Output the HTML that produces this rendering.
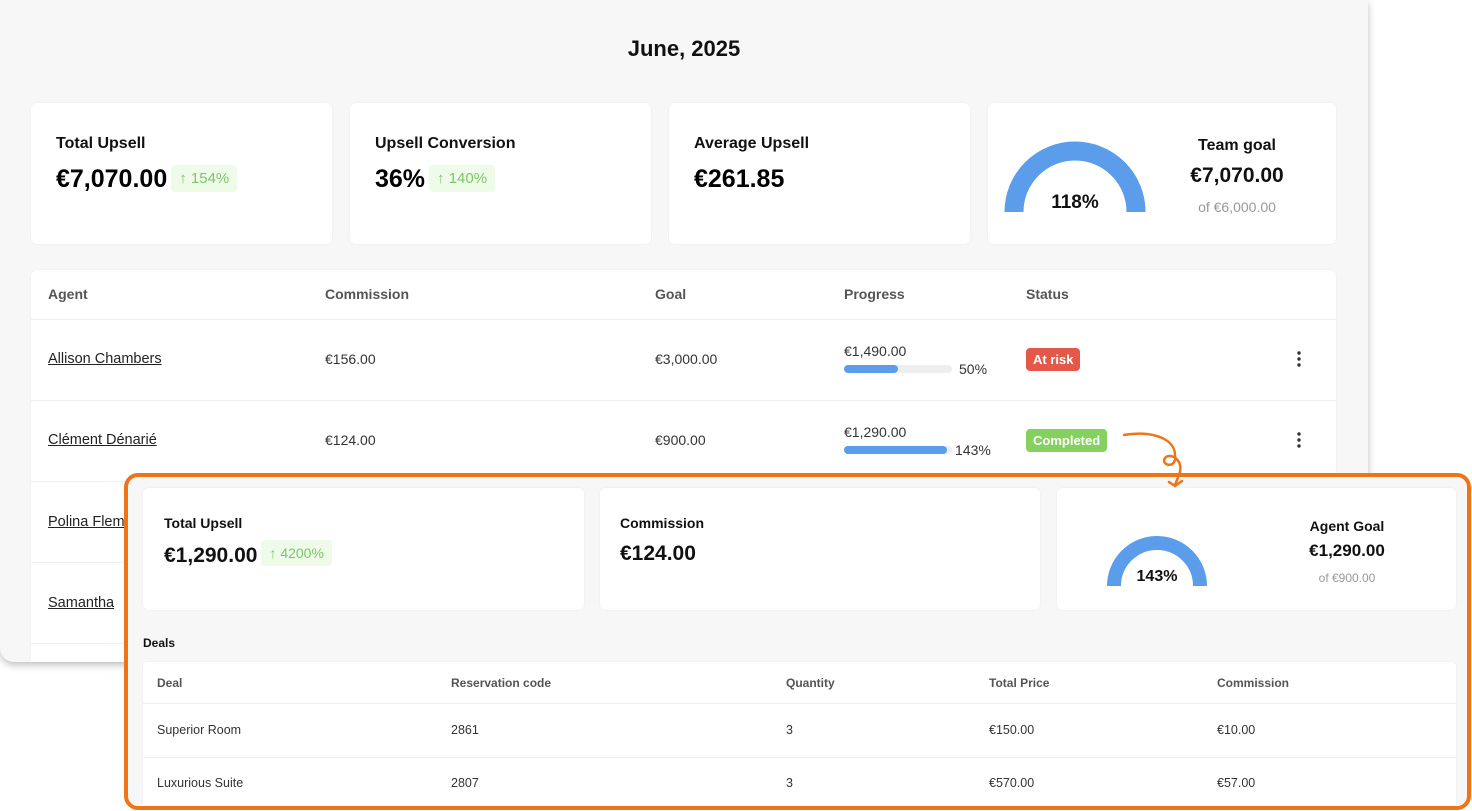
<!DOCTYPE html>
<html><head><meta charset="utf-8"><style>
*{box-sizing:border-box;margin:0;padding:0}
body{width:1472px;height:811px;background:#fff;font-family:"Liberation Sans",sans-serif;position:relative;overflow:hidden;color:#111}
.a{position:absolute}
.panel{left:0;top:0;width:1368px;height:662px;background:#f7f7f7;border-radius:0 0 14px 14px;box-shadow:0 3px 8px rgba(0,0,0,.25)}
.card{position:absolute;background:#fff;border-radius:6px;box-shadow:0 0 2px rgba(0,0,0,.06)}
.lbl{font-weight:bold;font-size:16px;color:#111}
.big{font-weight:bold;font-size:25px;color:#000}
.badge{display:inline-block;background:#eefbe9;color:#7cc66a;font-size:15px;padding:5px 8px;border-radius:4px;vertical-align:4px;margin-left:4px}
.th{font-weight:bold;font-size:14px;color:#555}
.td{font-size:14px;color:#333}
.u{text-decoration:underline;color:#222;font-size:14.5px}
.line{position:absolute;height:1px;background:#eeeeee}
.bar{position:absolute;height:8px;border-radius:4px;background:#eee;width:108px}
.bar i{display:block;height:8px;border-radius:4px;background:#5b9ceb}
</style></head><body>
<div class="a panel"></div>
<div class="a" style="left:0;top:36px;width:1368px;text-align:center;font-weight:bold;font-size:22px">June, 2025</div>

<div class="card" style="left:31px;top:103px;width:301px;height:141px">
<div class="a lbl" style="left:25px;top:32px">Total Upsell</div>
<div class="a" style="left:25px;top:62px"><span class="big">€7,070.00</span><span class="badge">↑ 154%</span></div></div>
<div class="card" style="left:350px;top:103px;width:301px;height:141px">
<div class="a lbl" style="left:25px;top:32px">Upsell Conversion</div>
<div class="a" style="left:25px;top:62px"><span class="big">36%</span><span class="badge">↑ 140%</span></div></div>
<div class="card" style="left:669px;top:103px;width:301px;height:141px">
<div class="a lbl" style="left:25px;top:32px">Average Upsell</div>
<div class="a" style="left:25px;top:62px"><span class="big">€261.85</span></div></div>
<div class="card" style="left:988px;top:103px;width:348px;height:141px">
<svg class="a" style="left:0;top:0" width="200" height="141"><path d="M26 109 A61 61 0 0 1 148 109" fill="none" stroke="#5b9ceb" stroke-width="19"/></svg>
<div class="a" style="left:47px;top:89px;width:80px;text-align:center;font-weight:bold;font-size:19px">118%</div>
<div class="a" style="left:180px;top:34px;width:138px;text-align:center;font-weight:bold;font-size:16px">Team goal</div>
<div class="a" style="left:180px;top:61px;width:138px;text-align:center;font-weight:bold;font-size:21px">€7,070.00</div>
<div class="a" style="left:180px;top:96px;width:138px;text-align:center;font-size:14px;color:#999">of €6,000.00</div></div>

<div class="card" style="left:31px;top:270px;width:1305px;height:392px;border-radius:6px 6px 0 0"></div>
<div class="a th" style="left:48px;top:286px">Agent</div>
<div class="a th" style="left:325px;top:286px">Commission</div>
<div class="a th" style="left:655px;top:286px">Goal</div>
<div class="a th" style="left:844px;top:286px">Progress</div>
<div class="a th" style="left:1026px;top:286px">Status</div>
<div class="line" style="left:31px;width:1305px;top:319px"></div>
<div class="line" style="left:31px;width:1305px;top:400px"></div>
<div class="line" style="left:31px;width:1305px;top:481px"></div>
<div class="line" style="left:31px;width:1305px;top:562px"></div>
<div class="line" style="left:31px;width:1305px;top:643px"></div>
<div class="a u" style="left:48px;top:351px">Allison Chambers</div>
<div class="a td" style="left:325px;top:351px">€156.00</div>
<div class="a td" style="left:655px;top:351px">€3,000.00</div>
<div class="a td" style="left:844px;top:343px">€1,490.00</div>
<div class="bar" style="left:844px;top:365px"><i style="width:54px"></i></div>
<div class="a td" style="left:959px;top:361px">50%</div>
<div class="a" style="left:1026px;top:348px;background:#e4584a;color:#fff;font-size:13px;font-weight:bold;padding:4px 7px;border-radius:4px">At risk</div>
<div class="a u" style="left:48px;top:432px">Clément Dénarié</div>
<div class="a td" style="left:325px;top:432px">€124.00</div>
<div class="a td" style="left:655px;top:432px">€900.00</div>
<div class="a td" style="left:844px;top:424px">€1,290.00</div>
<div class="bar" style="left:844px;top:446px"><i style="width:103px"></i></div>
<div class="a td" style="left:955px;top:442px">143%</div>
<div class="a" style="left:1026px;top:429px;background:#85d160;color:#fff;font-size:13px;font-weight:bold;padding:4px 7px;border-radius:4px">Completed</div>
<div class="a u" style="left:48px;top:514px">Polina Flem</div>
<div class="a u" style="left:48px;top:595px">Samantha</div>
<svg class="a" style="left:1290px;top:350px" width="20" height="100"><g fill="#333"><circle cx="9" cy="3" r="1.7"/><circle cx="9" cy="9" r="1.7"/><circle cx="9" cy="15" r="1.7"/><circle cx="9" cy="84" r="1.7"/><circle cx="9" cy="90" r="1.7"/><circle cx="9" cy="96" r="1.7"/></g></svg>

<div class="a" style="left:124px;top:473px;width:1347px;height:337px;border:4px solid #ef7418;border-radius:14px;background:#f7f7f7"></div>
<svg class="a" style="left:1115px;top:425px" width="80" height="70"><path d="M9 10 C40 5 60 15 60 30 C62 45 45 40 50 33 C55 27 70 35 64 50 L60 60 M54 57 L60 61 L67 56" fill="none" stroke="#ef7418" stroke-width="2.5" stroke-linecap="round"/></svg>
<div class="card" style="left:143px;top:488px;width:441px;height:122px">
<div class="a" style="left:21px;top:27px;font-weight:bold;font-size:14px">Total Upsell</div>
<div class="a" style="left:21px;top:52px"><span style="font-weight:bold;font-size:21px">€1,290.00</span><span class="badge" style="font-size:14px">↑ 4200%</span></div></div>
<div class="card" style="left:600px;top:488px;width:440px;height:122px">
<div class="a" style="left:20px;top:27px;font-weight:bold;font-size:14px">Commission</div>
<div class="a" style="left:20px;top:54px;font-weight:bold;font-size:21px">€124.00</div></div>
<div class="card" style="left:1057px;top:488px;width:399px;height:122px">
<svg class="a" style="left:0;top:0" width="200" height="122"><path d="M57 98 A43 43 0 0 1 143 98" fill="none" stroke="#5b9ceb" stroke-width="14"/></svg>
<div class="a" style="left:60px;top:80px;width:80px;text-align:center;font-weight:bold;font-size:16px">143%</div>
<div class="a" style="left:220px;top:30px;width:140px;text-align:center;font-weight:bold;font-size:14px">Agent Goal</div>
<div class="a" style="left:220px;top:53px;width:140px;text-align:center;font-weight:bold;font-size:17px">€1,290.00</div>
<div class="a" style="left:220px;top:83px;width:140px;text-align:center;font-size:12px;color:#999">of €900.00</div></div>
<div class="a" style="left:143px;top:636px;font-weight:bold;font-size:12px">Deals</div>
<div class="card" style="left:143px;top:662px;width:1313px;height:144px;border-radius:4px 4px 0 0"></div>
<div class="line" style="left:143px;width:1313px;top:703px"></div>
<div class="line" style="left:143px;width:1313px;top:757px"></div>
<div class="a th" style="left:157px;top:676px;font-size:12px">Deal</div>
<div class="a th" style="left:451px;top:676px;font-size:12px">Reservation code</div>
<div class="a th" style="left:786px;top:676px;font-size:12px">Quantity</div>
<div class="a th" style="left:989px;top:676px;font-size:12px">Total Price</div>
<div class="a th" style="left:1217px;top:676px;font-size:12px">Commission</div>
<div class="a td" style="left:157px;top:723px;font-size:12.5px">Superior Room</div>
<div class="a td" style="left:451px;top:723px;font-size:12.5px">2861</div>
<div class="a td" style="left:786px;top:723px;font-size:12.5px">3</div>
<div class="a td" style="left:989px;top:723px;font-size:12.5px">€150.00</div>
<div class="a td" style="left:1217px;top:723px;font-size:12.5px">€10.00</div>
<div class="a td" style="left:157px;top:776px;font-size:12.5px">Luxurious Suite</div>
<div class="a td" style="left:451px;top:776px;font-size:12.5px">2807</div>
<div class="a td" style="left:786px;top:776px;font-size:12.5px">3</div>
<div class="a td" style="left:989px;top:776px;font-size:12.5px">€570.00</div>
<div class="a td" style="left:1217px;top:776px;font-size:12.5px">€57.00</div>
</body></html>
